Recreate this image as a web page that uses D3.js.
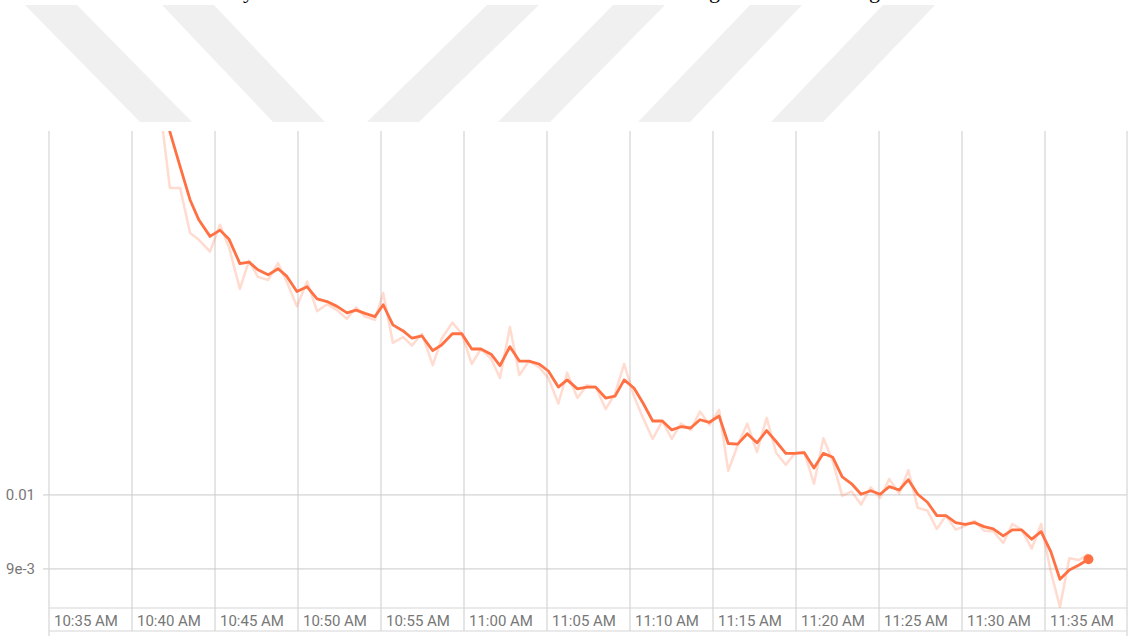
<!DOCTYPE html>
<html lang="en">
<head>
<meta charset="utf-8">
<title>Loss</title>
<script src="https://d3js.org/d3.v7.min.js"></script>
<style>
  body { margin: 0; background: #fff; }
  .grid line { stroke: #dcdcdc; stroke-width: 1.5; }
  .hgrid line { stroke: #c9c9c9; stroke-width: 1; }
  .frame line { stroke: #d6d6d6; stroke-width: 1.2; }
  .tick-label { font-family: Roboto, sans-serif; font-size: 15px; fill: #777; }
  path.raw { fill: none; stroke: #ff7043; stroke-opacity: 0.25; stroke-width: 2.5; stroke-linejoin: round; }
  path.smooth { fill: none; stroke: #ff7043; stroke-width: 2.8; stroke-linejoin: round; }
</style>
</head>
<body>
<div id="divChart"></div>
<script>
// wall time of every logged point, seconds after 10:35:00
const wallSeconds = [403,437,474,510,542,582,618,651,690,723,
  755,792,828,860,896,933,969,1005,1041,1077,
  1110,1142,1178,1208,1243,1280,1312,1348,1387,1419,
  1458,1492,1528,1561,1598,1630,1666,1700,1735,1771,
  1805,1841,1873,1910,1944,1976,2012,2046,2079,2115,
  2148,2182,2217,2251,2284,2319,2353,2387,2422,2455,
  2489,2524,2559,2594,2628,2663,2696,2730,2765,2799,
  2833,2867,2901,2935,2970,3004,3037,3073,3106,3140,
  3175,3209,3242,3277,3311,3345,3380,3413,3449,3482,
  3516,3552,3586,3621,3654,3688,3723,3757];

const rawValues = [0.01728,0.01548,0.01548,0.01452,0.01438,0.01414,0.01469,0.01422,0.01341,0.01396,
  0.01364,0.01358,0.01391,0.01354,0.01308,0.01355,0.01299,0.01312,0.01301,0.01285,
  0.01306,0.01289,0.01283,0.01333,0.01242,0.01252,0.01237,0.01258,0.01203,0.01249,
  0.01278,0.01258,0.01205,0.01231,0.01214,0.01181,0.01270,0.01186,0.01210,0.01200,
  0.01181,0.01139,0.01190,0.01148,0.01169,0.01166,0.01130,0.01155,0.01205,0.01150,
  0.01115,0.01083,0.01111,0.01083,0.01107,0.01097,0.01126,0.01105,0.01129,0.01035,
  0.01073,0.01107,0.01063,0.01116,0.01062,0.01044,0.01061,0.01063,0.01016,0.01084,
  0.01049,0.009986,0.01005,0.009864,0.01011,0.009957,0.01023,0.01002,0.01036,0.009817,
  0.009780,0.009527,0.009710,0.009518,0.009568,0.009637,0.009504,0.009496,0.009339,0.009595,
  0.009514,0.009265,0.009595,0.008965,0.008526,0.009138,0.009116,0.009194];

const smoothedValues = [0.01816,0.01677,0.01596,0.01522,0.01479,0.01445,0.01458,0.01439,0.01390,0.01393,
  0.01378,0.01368,0.01380,0.01365,0.01336,0.01345,0.01322,0.01317,0.01308,0.01296,
  0.01301,0.01295,0.01289,0.01311,0.01274,0.01263,0.01250,0.01254,0.01228,0.01238,
  0.01258,0.01258,0.01231,0.01231,0.01222,0.01202,0.01235,0.01210,0.01210,0.01205,
  0.01193,0.01166,0.01178,0.01163,0.01166,0.01166,0.01148,0.01151,0.01178,0.01164,
  0.01139,0.01111,0.01111,0.01097,0.01102,0.01100,0.01113,0.01109,0.01119,0.01076,
  0.01075,0.01091,0.01077,0.01096,0.01079,0.01061,0.01061,0.01062,0.01039,0.01061,
  0.01055,0.01026,0.01016,0.01001,0.01006,0.01001,0.01012,0.01007,0.01022,0.01001,
  0.009897,0.009710,0.009710,0.009613,0.009591,0.009613,0.009559,0.009527,0.009433,0.009514,
  0.009514,0.009389,0.009491,0.009224,0.008868,0.008987,0.009051,0.009125];

const yTickValues = [0.009, 0.01];
const yTickLabels = ["9e-3", "0.01"];
const yDomain = [0.008513, 0.01679];
const xStartMinutes = 0, xEndMinutes = 65;   // 10:35 AM .. 11:40 AM

// watermark of the page the chart was pasted on
const stripeTops = [25, 162, 487, 613, 750, 883];
const stripeLean = [115, 111, -120, -115, -112, -112];
// cut-off descenders of the line of text above
const cutGlyphs = ["y", "g", "g"];
const cutGlyphX = [243, 709, 869];

const W = 1130, H = 636;
const plot = {left: 49, right: 1127, top: 131, bottom: 608};
const labelRowBottom = 631;

const base = new Date(2019, 0, 1, 10, 35, 0);
const times = wallSeconds.map(s => new Date(base.getTime() + s * 1000));

const svg = d3.select("#divChart").append("svg")
    .attr("width", W).attr("height", H);

// watermark
const stripeW = 52;
svg.append("g").selectAll("polygon")
    .data(stripeTops)
    .join("polygon")
    .attr("points", (d, i) => [[d, 5], [d + stripeW, 5], [d + stripeW + stripeLean[i], 122], [d + stripeLean[i], 122]].join(" "))
    .attr("fill", "#f0f0f0");

svg.append("g").selectAll("text")
    .data(cutGlyphs)
    .join("text")
    .attr("x", (d, i) => cutGlyphX[i])
    .attr("y", -2)
    .attr("font-family", "Liberation Serif, serif")
    .attr("font-size", "22px")
    .attr("fill", "#000")
    .text(d => d);

// chart card
svg.append("rect")
    .attr("x", 0).attr("y", 122).attr("width", W).attr("height", H - 122)
    .attr("fill", "#fff");

const x = d3.scaleTime()
    .domain([d3.timeMinute.offset(base, xStartMinutes), d3.timeMinute.offset(base, xEndMinutes)])
    .range([plot.left, plot.right + 1]);

const y = d3.scaleLog()
    .domain(yDomain)
    .range([plot.bottom, plot.top]);

const xTicks = x.ticks(d3.timeMinute.every(5)).filter(t => x(t) < plot.right - 5);
const fmt = d3.timeFormat("%-I:%M %p");

// vertical grid, running through the label row
svg.append("g").attr("class", "grid")
    .selectAll("line")
    .data(xTicks.slice(1))
    .join("line")
    .attr("x1", d => x(d)).attr("x2", d => x(d))
    .attr("y1", plot.top).attr("y2", labelRowBottom);

// horizontal grid
svg.append("g").attr("class", "hgrid")
    .selectAll("line")
    .data(yTickValues)
    .join("line")
    .attr("x1", plot.left - 6).attr("x2", plot.right)
    .attr("y1", d => y(d)).attr("y2", d => y(d));

// frame
const frame = svg.append("g").attr("class", "frame");
frame.append("line").attr("x1", plot.left).attr("x2", plot.left).attr("y1", plot.top).attr("y2", H);
frame.append("line").attr("x1", plot.right).attr("x2", plot.right).attr("y1", plot.top).attr("y2", H);
frame.append("line").attr("x1", plot.left).attr("x2", plot.right).attr("y1", plot.bottom).attr("y2", plot.bottom);
frame.append("line").attr("x1", plot.left).attr("x2", plot.right).attr("y1", labelRowBottom).attr("y2", labelRowBottom);

// labels
svg.append("g").selectAll("text")
    .data(xTicks)
    .join("text")
    .attr("class", "tick-label")
    .attr("x", d => x(d) + 5)
    .attr("y", 626)
    .text(d => fmt(d));

svg.append("g").selectAll("text")
    .data(yTickValues)
    .join("text")
    .attr("class", "tick-label")
    .attr("text-anchor", "end")
    .attr("x", 35)
    .attr("y", d => y(d) + 5.5)
    .text((d, i) => yTickLabels[i]);

// series
svg.append("clipPath").attr("id", "plotClip")
    .append("rect")
    .attr("x", plot.left).attr("y", plot.top)
    .attr("width", plot.right - plot.left).attr("height", plot.bottom - plot.top);

const g = svg.append("g").attr("clip-path", "url(#plotClip)");

const line = d3.line().x((d, i) => x(times[i])).y(d => y(d));

g.append("path").datum(rawValues).attr("class", "raw").attr("d", line);
g.append("path").datum(smoothedValues).attr("class", "smooth").attr("d", line);

const last = smoothedValues.length - 1;
g.append("circle")
    .attr("cx", x(times[last]))
    .attr("cy", y(smoothedValues[last]))
    .attr("r", 5)
    .attr("fill", "#ff7043");
</script>
</body>
</html>
